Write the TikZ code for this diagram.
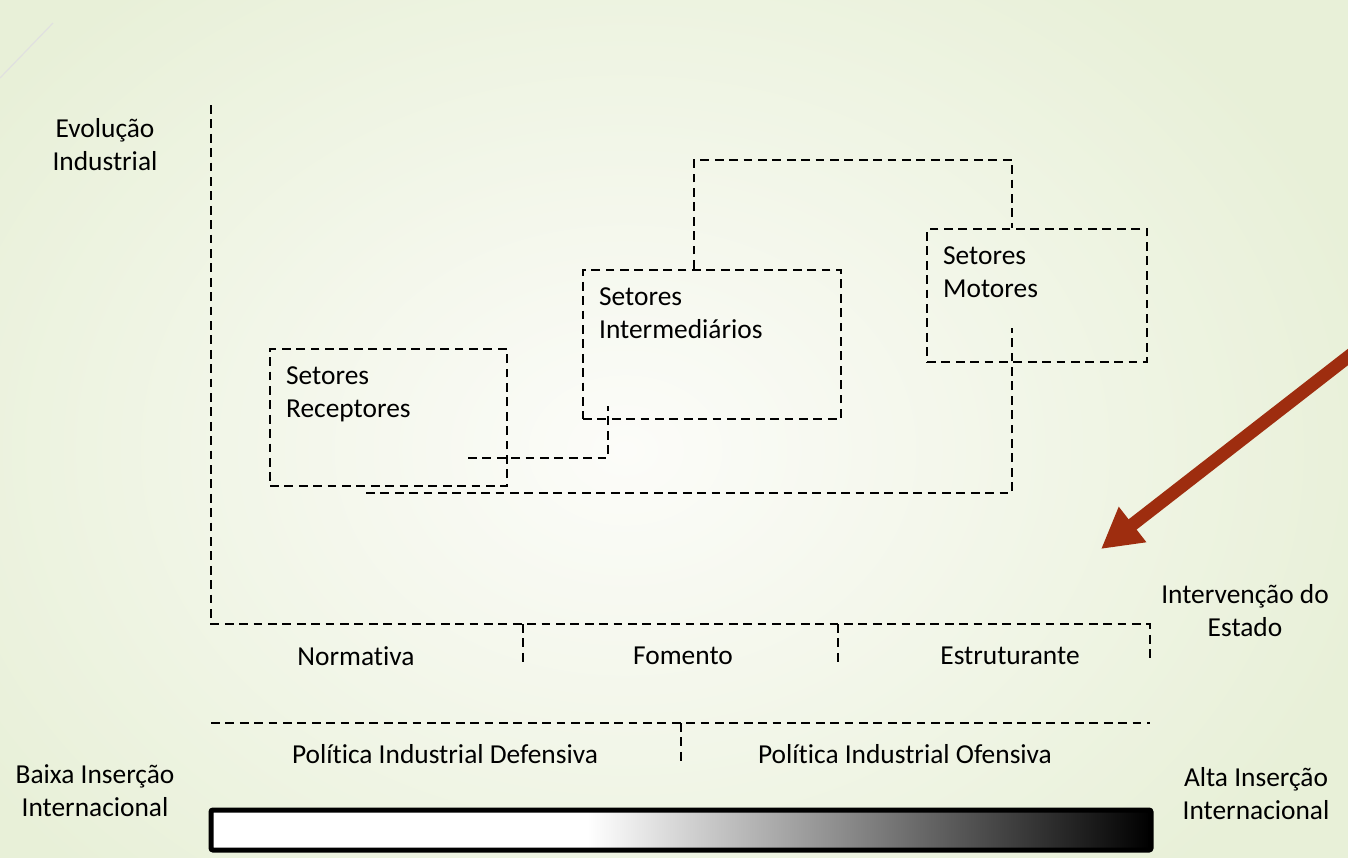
\documentclass[tikz,border=0pt]{standalone}
\usepackage{fontspec}
\setmainfont{Carlito}[Ligatures=NoCommon]
\usetikzlibrary{arrows.meta}
\definecolor{ferrugem}{RGB}{158,45,15}
\definecolor{fundo}{RGB}{232,240,216}
\definecolor{fundoclaro}{RGB}{252,252,249}
\pgfdeclarehorizontalshading{barra}{100bp}{color(0bp)=(white); color(45bp)=(white); color(75bp)=(black); color(100bp)=(black)}

\begin{document}
\begin{tikzpicture}[x=0.5pt,y=-0.5pt,
    linha/.style={dash pattern=on 4.4pt off 2.8pt, line width=1.25pt},
    caixa/.style={draw, linha, inner sep=0pt},
    rotulo/.style={font=\fontsize{13.7}{16.5}\selectfont, align=center, inner sep=0pt},
    texto/.style={font=\fontsize{13.7}{16.5}\selectfont, align=left, inner sep=0pt, anchor=north west}]
    %Evolução industrial e intervenção do Estado
        \useasboundingbox (0,0) rectangle (1348,857);
        \begin{scope}
            \clip (0,0) rectangle (1348,857);
            \shade[inner color=fundoclaro, outer color=fundo] (-150,-150) rectangle (1400,1050);
        \end{scope}
        \draw[color=black!12, line width=0.6pt] (0,78) -- (53,23);

        \coordinate (ytop) at (211,105);
        \coordinate (O) at (211,624);
        \coordinate (xend) at (1150,624);
        \coordinate (xbaixo) at (1150,662);

        \draw[linha] (ytop) -- (O) -- (xend) -- (xbaixo);
        \foreach \x in {523,838}
            \draw[linha] (\x,624) -- (\x,662);

        \coordinate (pA) at (211,723);
        \coordinate (pB) at (1150,723);
        \draw[linha] (pA) -- (pB);
        \draw[linha] (681,723) -- (681,765);

        \node[caixa, minimum width=118.5pt, minimum height=68.5pt] (rec) at (388.5,417.5) {};
        \node[caixa, minimum width=129pt, minimum height=74.5pt] (int) at (712,344.5) {};
        \node[caixa, minimum width=110pt, minimum height=66.5pt] (mot) at (1037,295.5) {};

        \node[texto] (recT) at ([xshift=8.5pt,yshift=-9.5pt]rec.north west) {Setores\\Receptores};
        \node[texto] (intT) at ([xshift=8.5pt,yshift=-9.5pt]int.north west) {Setores\\Intermediários};
        \node[texto] (motT) at ([xshift=8.5pt,yshift=-9.5pt]mot.north west) {Setores\\Motores};

        \coordinate (medL) at (468,458);
        \coordinate (medR) at (608,458);
        \coordinate (intIn) at (608,406);
        \draw[linha] (medL) -- (medR) -- (intIn);

        \coordinate (baixoL) at (366,493);
        \coordinate (baixoR) at (1012,493);
        \coordinate (motIn) at (1012,328);
        \draw[linha] (baixoL) -- (baixoR) -- (motIn);

        \coordinate (topoL) at (694,160);
        \coordinate (topoR) at (1012,160);
        \draw[linha] (int.north -| topoL) -- (topoL) -- (topoR) -- (mot.north -| topoR);

        \shadedraw[shading=barra, line width=2.5pt, rounded corners=1pt] (211,810) rectangle (1151,850);

        \begin{scope}
            \clip (0,0) rectangle (1348,857);
            \coordinate (setaS) at (1375,336);
            \coordinate (setaE) at (1101,549);
            \draw[ferrugem, line width=6.5pt, -{Triangle[length=20pt,width=21pt]}] (setaS) -- (setaE);
        \end{scope}

        \node[rotulo] (evol) at (105,145) {Evolução\\Industrial};
        \node[rotulo] (interv) at (1245,611) {Intervenção do\\Estado};
        \node[rotulo] (baixa) at (95,791) {Baixa Inserção\\Internacional};
        \node[rotulo] (alta) at (1256,794) {Alta Inserção\\Internacional};

        \node[rotulo] (norm) at (356,656) {Normativa};
        \node[rotulo] (fom) at (683,656) {Fomento};
        \node[rotulo] (estr) at (1010,656) {Estruturante};
        \node[rotulo] (def) at (445,754) {Política Industrial Defensiva};
        \node[rotulo] (ofe) at (905,754) {Política Industrial Ofensiva};
    \end{tikzpicture}
\end{document}
